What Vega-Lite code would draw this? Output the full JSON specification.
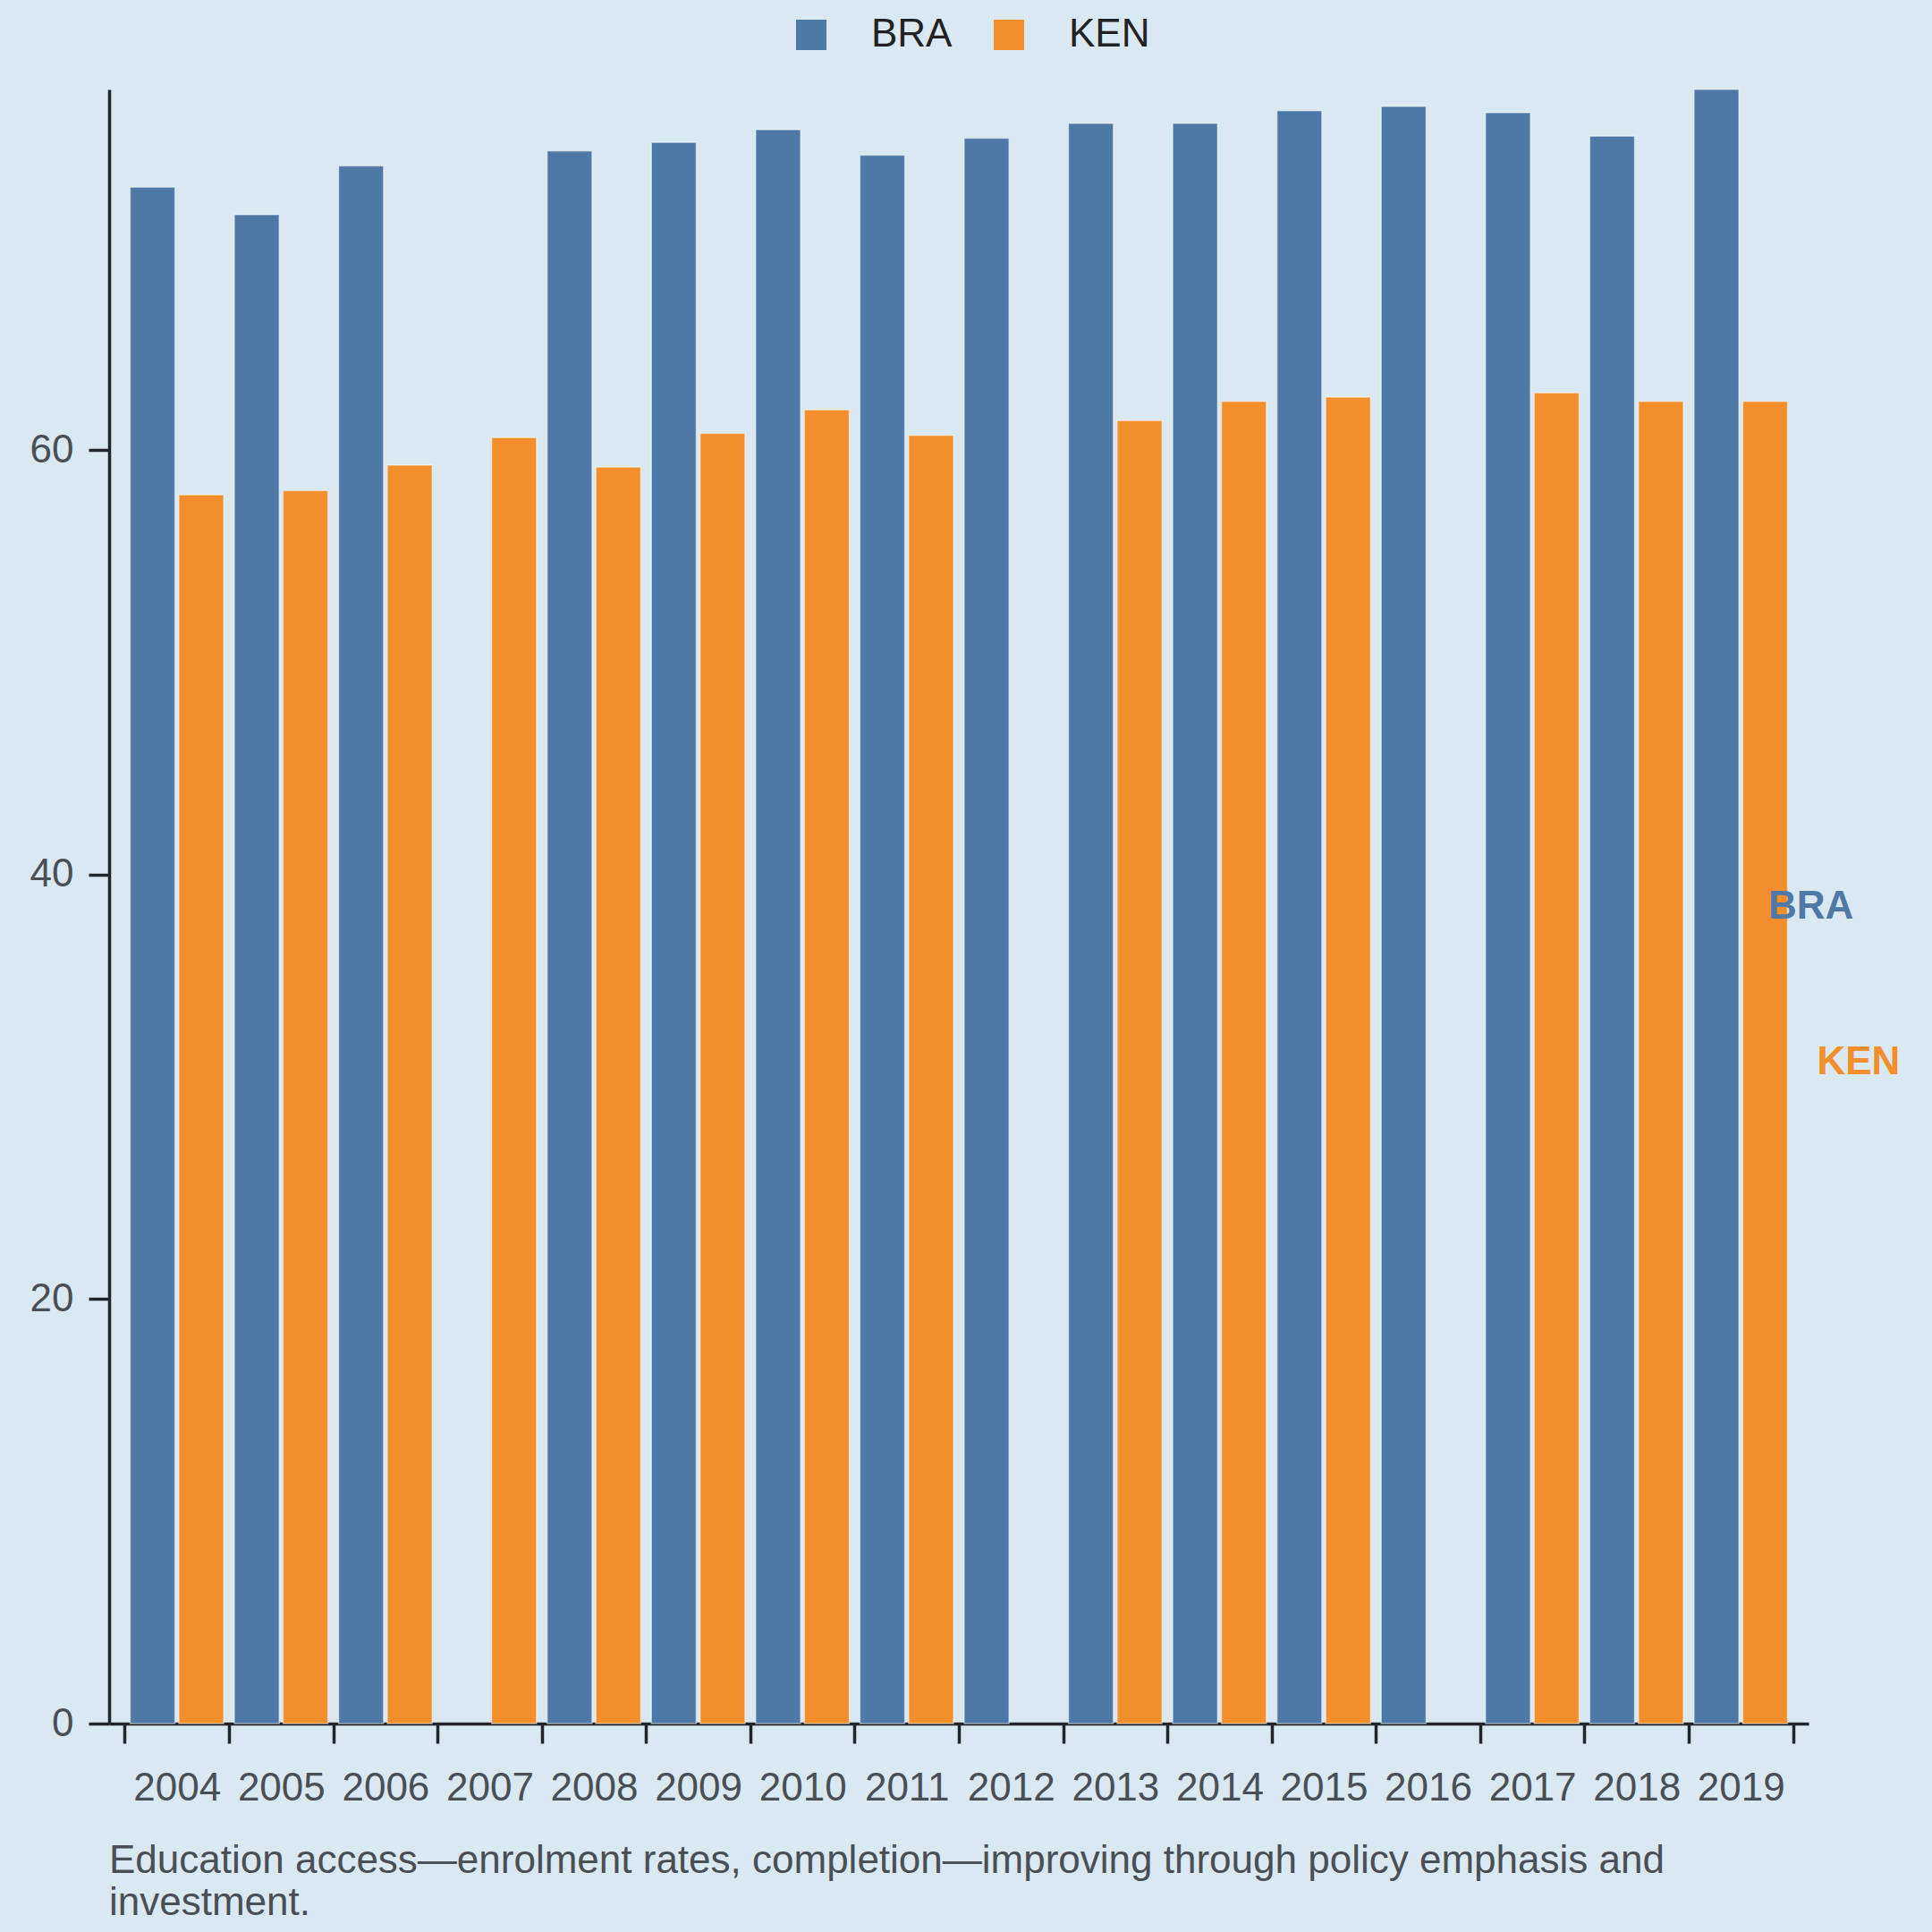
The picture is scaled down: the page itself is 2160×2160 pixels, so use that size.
{
  "$schema": "https://vega.github.io/schema/vega-lite/v6.json",
  "width": 1900,
  "height": 1827,
  "autosize": {"type": "none"},
  "padding": {"left": 122, "top": 100, "right": 138, "bottom": 233},
  "background": "#dae8f1",
  "title": {
    "text": ["Education access—enrolment rates, completion—improving through policy emphasis and", "investment."],
    "orient": "bottom",
    "anchor": "start",
    "frame": "group",
    "offset": 38,
    "fontSize": 44,
    "fontWeight": "normal",
    "lineHeight": 47,
    "color": "#4a4f56"
  },
  "data": {
    "values": [
      {"year": "2004", "country": "BRA", "value": 72.4},
      {"year": "2004", "country": "KEN", "value": 57.9},
      {"year": "2005", "country": "BRA", "value": 71.1},
      {"year": "2005", "country": "KEN", "value": 58.1},
      {"year": "2006", "country": "BRA", "value": 73.4},
      {"year": "2006", "country": "KEN", "value": 59.3},
      {"year": "2007", "country": "KEN", "value": 60.6},
      {"year": "2008", "country": "BRA", "value": 74.1},
      {"year": "2008", "country": "KEN", "value": 59.2},
      {"year": "2009", "country": "BRA", "value": 74.5},
      {"year": "2009", "country": "KEN", "value": 60.8},
      {"year": "2010", "country": "BRA", "value": 75.1},
      {"year": "2010", "country": "KEN", "value": 61.9},
      {"year": "2011", "country": "BRA", "value": 73.9},
      {"year": "2011", "country": "KEN", "value": 60.7},
      {"year": "2012", "country": "BRA", "value": 74.7},
      {"year": "2013", "country": "BRA", "value": 75.4},
      {"year": "2013", "country": "KEN", "value": 61.4},
      {"year": "2014", "country": "BRA", "value": 75.4},
      {"year": "2014", "country": "KEN", "value": 62.3},
      {"year": "2015", "country": "BRA", "value": 76.0},
      {"year": "2015", "country": "KEN", "value": 62.5},
      {"year": "2016", "country": "BRA", "value": 76.2},
      {"year": "2017", "country": "BRA", "value": 75.9},
      {"year": "2017", "country": "KEN", "value": 62.7},
      {"year": "2018", "country": "BRA", "value": 74.8},
      {"year": "2018", "country": "KEN", "value": 62.3},
      {"year": "2019", "country": "BRA", "value": 77.0},
      {"year": "2019", "country": "KEN", "value": 62.3}
    ]
  },
  "encoding": {
    "x": {
      "field": "year",
      "type": "nominal",
      "scale": {"paddingInner": 0, "paddingOuter": 0.15},
      "axis": {
        "title": null,
        "labelAngle": 0,
        "tickBand": "extent",
        "tickSize": 22,
        "labelPadding": 28
      }
    },
    "xOffset": {
      "field": "country",
      "type": "nominal",
      "scale": {"paddingInner": 0.08, "paddingOuter": 0.11}
    },
    "color": {
      "field": "country",
      "type": "nominal",
      "scale": {"domain": ["BRA", "KEN"], "range": ["#4e79a7", "#f28e2b"]}
    }
  },
  "layer": [
    {
      "mark": {"type": "bar", "stroke": "white", "strokeWidth": 1.5, "strokeOpacity": 0.45},
      "encoding": {
        "y": {
          "field": "value",
          "type": "quantitative",
          "scale": {"domain": [0, 77.0], "nice": false},
          "axis": {
            "title": null,
            "values": [0, 20, 40, 60],
            "tickSize": 23,
            "labelPadding": 17,
            "grid": false
          }
        },
        "color": {
          "field": "country",
          "type": "nominal",
          "legend": {
            "title": null,
            "orient": "none",
            "legendX": 763,
            "legendY": -83,
            "direction": "horizontal",
            "symbolType": "square",
            "symbolSize": 1156,
            "symbolStrokeWidth": 0,
            "symbolOpacity": 1,
            "labelFontSize": 44,
            "labelColor": "#222222",
            "labelOffset": 45,
            "columnPadding": 41
          }
        }
      }
    },
    {
      "transform": [
        {"filter": "datum.year == '2019'"},
        {"calculate": "datum.value / 2", "as": "mid"}
      ],
      "mark": {"type": "text", "align": "left", "baseline": "middle", "dx": 58, "fontSize": 44, "fontWeight": "bold"},
      "encoding": {
        "y": {"field": "mid", "type": "quantitative"},
        "text": {"field": "country"}
      }
    }
  ],
  "config": {
    "font": "Liberation Sans",
    "view": {"stroke": null},
    "axis": {
      "domainColor": "#22262b",
      "domainWidth": 3.5,
      "tickColor": "#22262b",
      "tickWidth": 3.5,
      "labelColor": "#4a4f56",
      "labelFontSize": 44,
      "labelFont": "Liberation Sans"
    },
    "legend": {"labelFont": "Liberation Sans"}
  }
}
